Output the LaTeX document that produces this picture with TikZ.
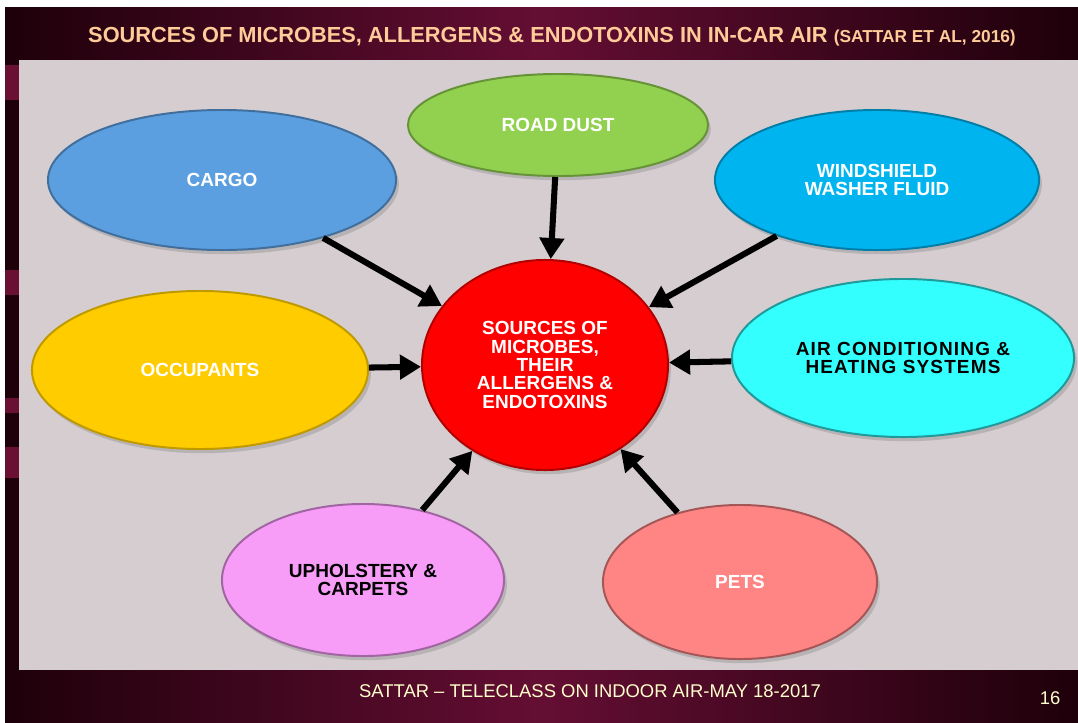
\documentclass[tikz,border=0pt]{standalone}
\usepackage{fontspec}
\setsansfont{Liberation Sans}
\usetikzlibrary{arrows.meta,shapes.geometric,shadows}
\definecolor{framedark}{HTML}{1E000A}
\definecolor{framemid}{HTML}{640E33}
\definecolor{frametab}{HTML}{6A1032}
\definecolor{panelgrey}{HTML}{D5CDD0}
\definecolor{titlepeach}{HTML}{FFCC99}
\definecolor{footcream}{HTML}{FFFFCC}
\definecolor{cargoblue}{HTML}{5B9FE0}
\definecolor{dustgreen}{HTML}{92D050}
\definecolor{washblue}{HTML}{00B4F0}
\definecolor{occyellow}{HTML}{FFCC00}
\definecolor{accyan}{HTML}{33FFFF}
\definecolor{srcred}{HTML}{FF0000}
\definecolor{upholpink}{HTML}{F79CF7}
\definecolor{petsalmon}{HTML}{FF8585}

\begin{document}
\begin{tikzpicture}[
  x=0.025cm, y=-0.025cm,
  font=\sffamily,
  blob/.style={ellipse, line width=1.4pt, align=center, inner sep=0pt,
               font=\sffamily\bfseries\fontsize{13.5}{13}\selectfont,
               drop shadow={opacity=0.35, shadow xshift=2pt, shadow yshift=-3pt}},
  feed/.style={-{Triangle[length=15pt, width=17pt]}, line width=4.3pt, black},
  ttl/.style={inner sep=0pt, font=\sffamily\bfseries\fontsize{15.5}{17}\selectfont},
  foot/.style={inner sep=0pt, font=\sffamily\fontsize{13.1}{15}\selectfont},
]
\useasboundingbox (0,0) rectangle (1078,723);

% ---------------- slide frame --------------------------------------
\fill[white] (0,0) rectangle (1078,723);
\shade[left color=framedark, right color=framedark, middle color=framemid]
  (5,7) rectangle (1078,723);
\fill[framedark] (5,7) rectangle (19,723);
\foreach \ya/\yb in {65/100, 270/295, 398/413, 447/478}
  \fill[frametab] (5,\ya) rectangle (19,\yb);

\node[ttl, text=titlepeach] (title) at (552,37)
  {SOURCES OF MICROBES, ALLERGENS \& ENDOTOXINS IN IN-CAR AIR {\fontsize{12.3}{14}\selectfont(SATTAR ET AL, 2016)}};

\fill[panelgrey] (19,60) rectangle (1078,670);

\node[foot, text=footcream] (foot) at (590,691)
  {SATTAR -- TELECLASS ON INDOOR AIR-MAY 18-2017};
\node[foot, text=footcream] (page) at (1050,698) {16};

% ---------------- sources ------------------------------------------
\node[blob, fill=dustgreen, draw=dustgreen!70!black, text=white,
      minimum width=7.5cm, minimum height=2.55cm] (dust) at (558,125) {ROAD DUST};
\node[blob, fill=cargoblue, draw=cargoblue!70!black, text=white,
      minimum width=8.7cm, minimum height=3.5cm] (cargo) at (222,180) {CARGO};
\node[blob, fill=washblue, draw=washblue!70!black, text=white,
      minimum width=8.1cm, minimum height=3.5cm] (wash) at (877,180) {WINDSHIELD\\WASHER FLUID};
\node[blob, fill=occyellow, draw=occyellow!75!black, text=white,
      minimum width=8.4cm, minimum height=3.95cm] (occ) at (200,370) {OCCUPANTS};
\node[blob, fill=accyan, draw=accyan!60!black, text=black,
      minimum width=8.55cm, minimum height=3.95cm] (ac) at (903,358)
  {\addfontfeatures{LetterSpace=6}AIR CONDITIONING \&\\\addfontfeatures{LetterSpace=6}HEATING SYSTEMS};
\node[blob, fill=upholpink, draw=upholpink!65!black, text=black,
      minimum width=7.05cm, minimum height=3.8cm] (uphol) at (363,580) {UPHOLSTERY \&\\CARPETS};
\node[blob, fill=petsalmon, draw=petsalmon!65!black, text=white,
      minimum width=6.85cm, minimum height=3.85cm] (pets) at (740,582) {PETS};

% ---------------- hub ----------------------------------------------
\node[blob, fill=srcred, draw=srcred!70!black, text=white,
      minimum width=6.15cm, minimum height=5.25cm] (src) at (545,365)
  {SOURCES OF\\MICROBES,\\THEIR\\ALLERGENS \&\\ENDOTOXINS};

% ---------------- flow ---------------------------------------------
\foreach \s in {dust, cargo, wash, occ, ac, uphol, pets}
  \draw[feed] (\s) -- (src);

\end{tikzpicture}
\end{document}
